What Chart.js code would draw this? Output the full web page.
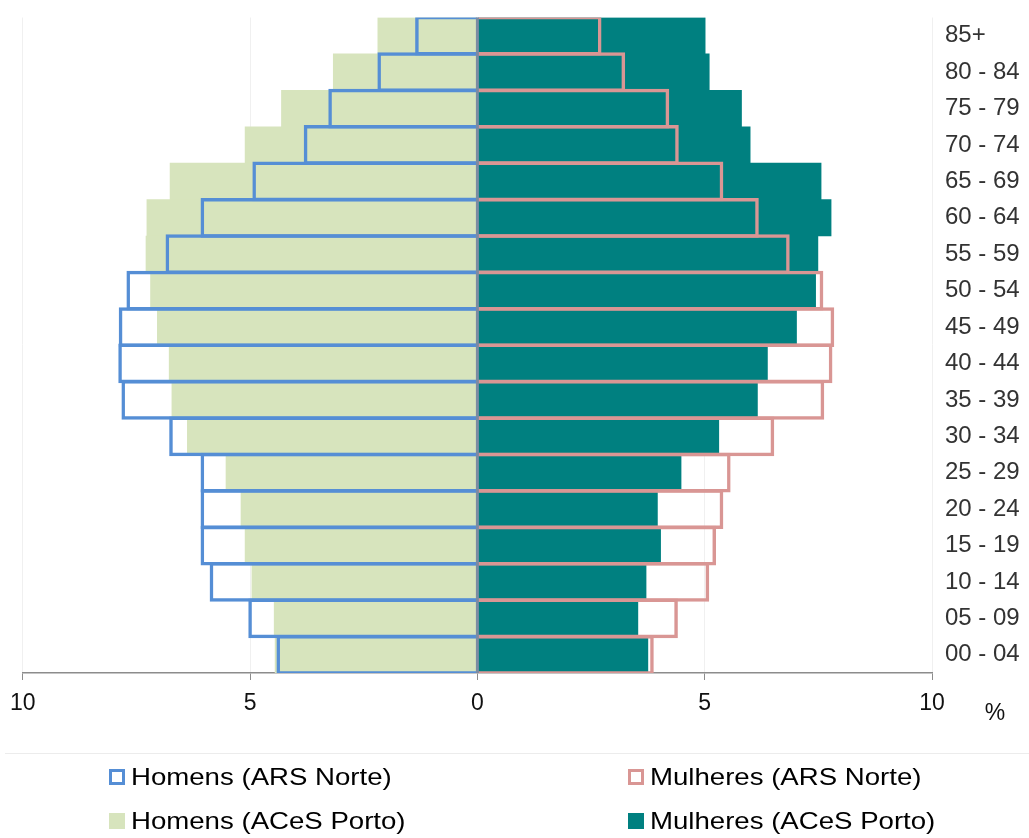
<!DOCTYPE html>
<html>
<head>
<meta charset="utf-8">
<title>Pirâmide etária</title>
<script src="https://cdn.jsdelivr.net/npm/chart.js@4.4.1/dist/chart.umd.min.js"></script>
<style>
  html, body { margin: 0; padding: 0; background: #ffffff; }
  #wrap { width: 1029px; height: 838px; position: relative; }
</style>
</head>
<body>
<div id="wrap"><canvas id="pyramid"></canvas></div>
<script>
// Age groups, oldest at the top
const ageGroups = ['85+', '80 - 84', '75 - 79', '70 - 74', '65 - 69', '60 - 64', '55 - 59',
  '50 - 54', '45 - 49', '40 - 44', '35 - 39', '30 - 34', '25 - 29', '20 - 24',
  '15 - 19', '10 - 14', '05 - 09', '00 - 04'];

// Share of population (%) per age group
const homensArsNorte   = [1.37, 2.20, 3.28, 3.82, 4.95, 6.09, 6.86, 7.72, 7.89, 7.90, 7.83, 6.78, 6.09, 6.09, 6.09, 5.89, 5.04, 4.42];
const mulheresArsNorte = [2.73, 3.25, 4.22, 4.43, 5.41, 6.19, 6.87, 7.61, 7.85, 7.81, 7.63, 6.53, 5.57, 5.41, 5.25, 5.10, 4.41, 3.88];
const homensAcesPorto  = [2.19, 3.17, 4.31, 5.11, 6.76, 7.27, 7.29, 7.19, 7.04, 6.78, 6.72, 6.38, 5.53, 5.20, 5.11, 4.96, 4.47, 4.45];
const mulheresAcesPorto= [5.01, 5.10, 5.81, 6.00, 7.56, 7.78, 7.49, 7.44, 7.02, 6.38, 6.16, 5.31, 4.48, 3.96, 4.03, 3.71, 3.53, 3.75];

// Axis ticks (absolute values shown on both sides)
const xTicks = [-10, -5, 0, 5, 10];

const FONT = '"Liberation Sans", Arial, sans-serif';
const BLUE = '#558ED5', PINK = '#D99694', GREEN = '#D7E4BD', TEAL = '#008080';

// Men are plotted to the left of zero
const toLeft = arr => arr.map(v => -v);

const outlineStyle = {
  backgroundColor: 'rgba(0,0,0,0)',
  borderWidth: 3.5,
  borderSkipped: 'start',
  barPercentage: 1.09,
  categoryPercentage: 1,
  grouped: false
};
const fillStyle = {
  borderWidth: 0,
  barPercentage: 1,
  categoryPercentage: 1,
  grouped: false
};

// Zero axis line, legend and unit label
const extras = {
  id: 'extras',
  afterDatasetsDraw(chart) {
    const { ctx, chartArea, scales: { x } } = chart;
    const zx = x.getPixelForValue(0);
    ctx.save();
    ctx.strokeStyle = '#7b8ba3';
    ctx.lineWidth = 3;
    ctx.beginPath();
    ctx.moveTo(zx, chartArea.top);
    ctx.lineTo(zx, chartArea.bottom);
    ctx.stroke();
    ctx.restore();
  },
  afterDraw(chart) {
    const { ctx, chartArea } = chart;
    ctx.save();
    // unit label
    ctx.fillStyle = '#111111';
    ctx.font = '23px ' + FONT;
    ctx.textAlign = 'center';
    ctx.textBaseline = 'middle';
    ctx.fillText('%', chartArea.right + 63, chartArea.bottom + 41);

    // separator above the legend
    ctx.strokeStyle = '#ececec';
    ctx.lineWidth = 1;
    ctx.beginPath();
    ctx.moveTo(5, 753.5);
    ctx.lineTo(chart.width, 753.5);
    ctx.stroke();

    // legend: two columns, two rows
    const colX = [109, 628];
    const rowY = [777, 821];
    chart.data.datasets.forEach((ds, i) => {
      const bx = colX[i % 2];
      const cy = rowY[Math.floor(i / 2)];
      const by = cy - 8;
      if (ds.borderWidth > 0) {
        ctx.fillStyle = '#ffffff';
        ctx.fillRect(bx, by, 16, 16);
        ctx.strokeStyle = ds.borderColor;
        ctx.lineWidth = 3;
        ctx.strokeRect(bx + 1.5, by + 1.5, 13, 13);
      } else {
        ctx.fillStyle = ds.backgroundColor;
        ctx.fillRect(bx, by, 16, 16);
      }
      ctx.save();
      ctx.translate(bx + 22, cy + 1);
      ctx.scale(1.15, 1);
      ctx.fillStyle = '#000000';
      ctx.font = '24px ' + FONT;
      ctx.textAlign = 'left';
      ctx.textBaseline = 'middle';
      ctx.fillText(ds.label, 0, 0);
      ctx.restore();
    });
    ctx.restore();
  }
};

new Chart(document.getElementById('pyramid'), {
  type: 'bar',
  data: {
    labels: ageGroups,
    datasets: [
      Object.assign({ label: 'Homens (ARS Norte)', data: toLeft(homensArsNorte), borderColor: BLUE }, outlineStyle),
      Object.assign({ label: 'Mulheres (ARS Norte)', data: mulheresArsNorte, borderColor: PINK }, outlineStyle),
      Object.assign({ label: 'Homens (ACeS Porto)', data: toLeft(homensAcesPorto), backgroundColor: GREEN }, fillStyle),
      Object.assign({ label: 'Mulheres (ACeS Porto)', data: mulheresAcesPorto, backgroundColor: TEAL }, fillStyle)
    ]
  },
  options: {
    indexAxis: 'y',
    responsive: true,
    maintainAspectRatio: false,
    animation: false,
    layout: { padding: { left: 22.5, right: 0, top: 17.5, bottom: 125 } },
    plugins: {
      legend: { display: false },
      tooltip: { enabled: false }
    },
    scales: {
      x: {
        type: 'linear',
        min: -10,
        max: 10,
        afterBuildTicks: scale => { scale.ticks = xTicks.map(v => ({ value: v })); },
        afterFit: scale => { scale.height = 40; },
        grid: { color: '#f0f0f0', lineWidth: 1, tickColor: '#8c8c8c', tickLength: 7 },
        border: { display: true, color: '#8c8c8c', width: 1.5 },
        ticks: {
          color: '#111111',
          font: { family: FONT, size: 23 },
          padding: 10,
          maxRotation: 0,
          callback: v => String(Math.abs(v))
        }
      },
      y: {
        position: 'right',
        afterFit: scale => { scale.width = 97; },
        grid: { display: false, drawTicks: true, tickLength: 13 },
        border: { display: false },
        ticks: {
          color: '#333333',
          font: { family: FONT, size: 24 },
          padding: 0,
          crossAlign: 'near'
        }
      }
    }
  },
  plugins: [extras]
});
</script>
</body>
</html>
